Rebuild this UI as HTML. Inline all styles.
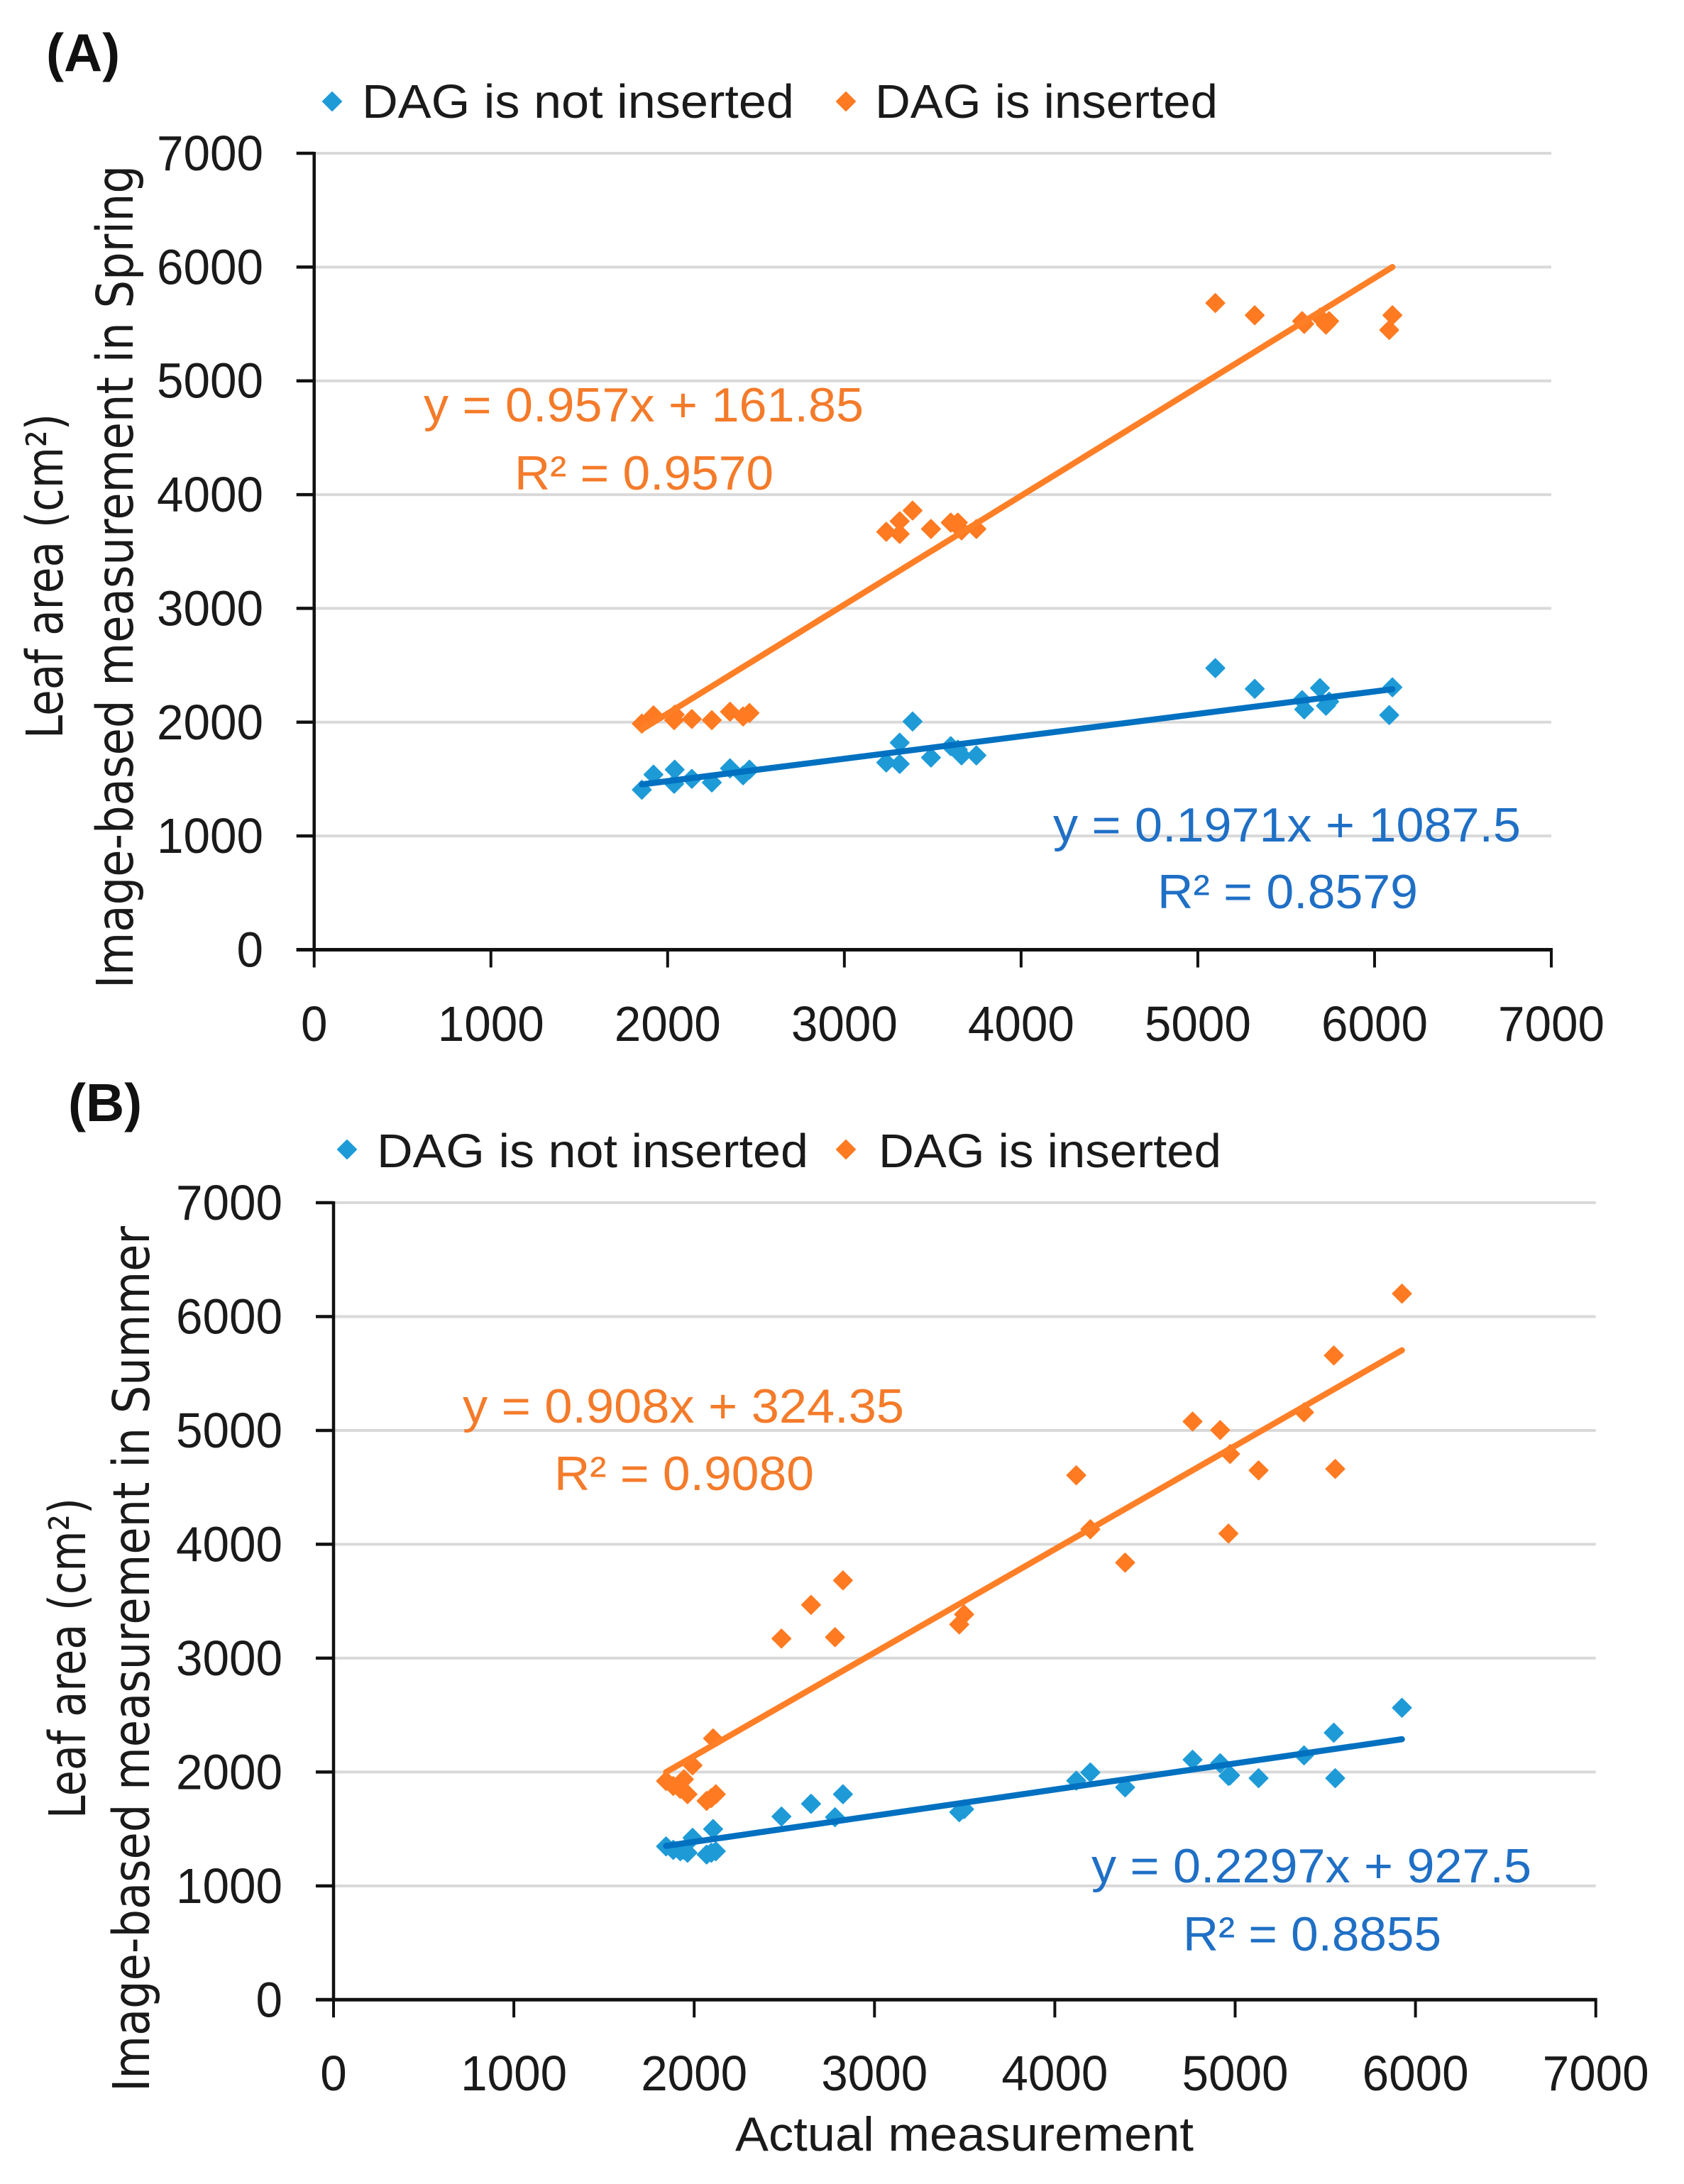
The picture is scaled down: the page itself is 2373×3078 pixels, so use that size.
<!DOCTYPE html>
<html lang="en">
<head>
<meta charset="utf-8">
<title>Leaf area: image-based vs actual measurement</title>
<style>
html,body{margin:0;padding:0;background:#fff;}
svg{display:block;font-family:"Liberation Sans",sans-serif;}
.title{font-family:"DejaVu Sans",sans-serif;font-size:71px;fill:#1a1a1a;}
.tick{font-size:70px;fill:#1a1a1a;}
.axis-title{font-size:68px;fill:#1a1a1a;}
.legend{font-size:67px;fill:#1a1a1a;}
.panel{font-size:75px;font-weight:bold;fill:#111;}
.eq{font-size:68px;}
</style>
</head>
<body>
<svg id="figure" xmlns="http://www.w3.org/2000/svg" width="2373" height="3078" viewBox="0 0 2373 3078">
<rect width="2373" height="3078" fill="#ffffff"/>

<g id="chartA"></g>
<g id="chartB"></g>

<text class="panel" x="65" y="100">(A)</text>
<polygon points="468,130 481,143 468,156 455,143" fill="#1E9BD7" stroke="#1E9BD7" stroke-width="2" stroke-linejoin="round"/>
<text class="legend" x="510" y="166" textLength="609" lengthAdjust="spacingAndGlyphs">DAG is not inserted</text>
<polygon points="1192,130 1205,143 1192,156 1179,143" fill="#FF7A21" stroke="#FF7A21" stroke-width="2" stroke-linejoin="round"/>
<text class="legend" x="1233" y="166" textLength="483" lengthAdjust="spacingAndGlyphs">DAG is inserted</text>
<text class="title" transform="translate(88,1041) rotate(-90)" textLength="458" lengthAdjust="spacingAndGlyphs">Leaf area (cm²)</text>
<text class="title" transform="translate(187,1393) rotate(-90)" textLength="1160" lengthAdjust="spacingAndGlyphs">Image-based measurement in Spring</text>
<text class="eq" x="597" y="594" fill="#F47B2A" textLength="620" lengthAdjust="spacingAndGlyphs">y = 0.957x + 161.85</text>
<text class="eq" x="725" y="690" fill="#F47B2A" textLength="365" lengthAdjust="spacingAndGlyphs">R² = 0.9570</text>
<text class="eq" x="1484" y="1186" fill="#1F6FC5" textLength="659" lengthAdjust="spacingAndGlyphs">y = 0.1971x + 1087.5</text>
<text class="eq" x="1631" y="1280" fill="#1F6FC5" textLength="367" lengthAdjust="spacingAndGlyphs">R² = 0.8579</text>

<text class="panel" x="96" y="1580">(B)</text>
<polygon points="489,1607 502,1620 489,1633 476,1620" fill="#1E9BD7" stroke="#1E9BD7" stroke-width="2" stroke-linejoin="round"/>
<text class="legend" x="531" y="1645" textLength="608" lengthAdjust="spacingAndGlyphs">DAG is not inserted</text>
<polygon points="1192,1607 1205,1620 1192,1633 1179,1620" fill="#FF7A21" stroke="#FF7A21" stroke-width="2" stroke-linejoin="round"/>
<text class="legend" x="1238" y="1645" textLength="483" lengthAdjust="spacingAndGlyphs">DAG is inserted</text>
<text class="title" transform="translate(120,2563) rotate(-90)" textLength="452" lengthAdjust="spacingAndGlyphs">Leaf area (cm²)</text>
<text class="title" transform="translate(210,2948) rotate(-90)" textLength="1220" lengthAdjust="spacingAndGlyphs">Image-based measurement in Summer</text>
<text class="eq" x="652" y="2005" fill="#F47B2A" textLength="622" lengthAdjust="spacingAndGlyphs">y = 0.908x + 324.35</text>
<text class="eq" x="781" y="2100" fill="#F47B2A" textLength="366" lengthAdjust="spacingAndGlyphs">R² = 0.9080</text>
<text class="eq" x="1538" y="2653" fill="#1F6FC5" textLength="620" lengthAdjust="spacingAndGlyphs">y = 0.2297x + 927.5</text>
<text class="eq" x="1667" y="2749" fill="#1F6FC5" textLength="364" lengthAdjust="spacingAndGlyphs">R² = 0.8855</text>
<text class="axis-title" x="1036" y="3031" textLength="646" lengthAdjust="spacingAndGlyphs">Actual measurement</text>
</svg>

<script>
var tickValues = [0, 1000, 2000, 3000, 4000, 5000, 6000, 7000];

var springActual = [1854, 1920, 2037, 2040, 2137, 2250, 2353, 2427, 2463,
  3237, 3313, 3313, 3386, 3490, 3602, 3642, 3663, 3747,
  5099, 5322, 5590, 5602, 5691, 5725, 5743, 6101, 6083];
var springNotInserted = [1406, 1539, 1458, 1583, 1502, 1470, 1594, 1533, 1583,
  1645, 1820, 1633, 2006, 1689, 1789, 1758, 1708, 1708,
  2475, 2293, 2194, 2112, 2300, 2144, 2181, 2306, 2062];
var springInserted = [1987, 2060, 2018, 2066, 2028, 2018, 2092, 2050, 2081,
  3673, 3654, 3766, 3860, 3698, 3754, 3754, 3685, 3698,
  5684, 5576, 5525, 5500, 5556, 5494, 5525, 5576, 5447];
var springTrendX = [1854, 6101];
var springTrendNotInserted = [1453, 2290];
var springTrendInserted = [1936, 6000];

var summerActual = [1844, 1884, 1923, 1943, 1963, 1991, 2069, 2105, 2095, 2120,
  2484, 2648, 2781, 2825, 3470, 3497,
  4119, 4197, 4390, 4764, 4917, 4972, 4963, 5130, 5382, 5547, 5555, 5925];
var summerNotInserted = [1347, 1316, 1304, 1316, 1291, 1422, 1275, 1499, 1291, 1304,
  1609, 1721, 1603, 1805, 1647, 1673,
  1924, 1996, 1865, 2108, 2077, 1971, 1965, 1946, 2146, 2345, 1946, 2564];
var summerInserted = [1921, 1877, 1852, 1936, 1805, 2058, 1746, 2295, 1771, 1805,
  3172, 3468, 3184, 3683, 3296, 3384,
  4606, 4132, 3839, 5078, 5003, 4793, 4094, 4649, 5159, 5658, 4662, 6201];
var summerTrendX = [1844, 5925];
var summerTrendNotInserted = [1351, 2288];
var summerTrendInserted = [1999, 5704];

var NS = 'http://www.w3.org/2000/svg';
var BLUE = '#1E9BD7', ORANGE = '#FF7A21', BLUE_LINE = '#0070C0', ORANGE_LINE = '#FF7F27';

function makeScale(pixelAtZero, pixelAtMax, maxValue) {
  return function (v) { return pixelAtZero + (pixelAtMax - pixelAtZero) * v / maxValue; };
}

function line(parent, x1, y1, x2, y2, color, width, cap) {
  var el = document.createElementNS(NS, 'line');
  el.setAttribute('x1', x1);
  el.setAttribute('y1', y1);
  el.setAttribute('x2', x2);
  el.setAttribute('y2', y2);
  el.setAttribute('stroke', color);
  el.setAttribute('stroke-width', width);
  if (cap) { el.setAttribute('stroke-linecap', cap); }
  parent.appendChild(el);
  return el;
}

function tickLabel(parent, x, y, anchor, value) {
  var el = document.createElementNS(NS, 'text');
  var label = String(value);
  el.setAttribute('class', 'tick');
  el.setAttribute('x', x);
  el.setAttribute('y', y);
  el.setAttribute('text-anchor', anchor);
  el.setAttribute('textLength', label.length * 37.5);
  el.setAttribute('lengthAdjust', 'spacingAndGlyphs');
  el.textContent = label;
  parent.appendChild(el);
  return el;
}

function markers(parent, xs, ys, sx, sy, color, seriesName) {
  for (var i = 0; i < xs.length; i++) {
    var cx = sx(xs[i]), cy = sy(ys[i]), h = 13;
    var el = document.createElementNS(NS, 'polygon');
    el.setAttribute('points', cx + ',' + (cy - h) + ' ' + (cx + h) + ',' + cy + ' ' + cx + ',' + (cy + h) + ' ' + (cx - h) + ',' + cy);
    el.setAttribute('fill', color);
    el.setAttribute('stroke', color);
    el.setAttribute('stroke-width', 2);
    el.setAttribute('stroke-linejoin', 'round');
    
    
    parent.appendChild(el);
  }
}

function drawChart(id, prefix, box, labels, xs, blueYs, orangeYs, trendX, trendBlue, trendOrange) {
  var g = document.getElementById(id);
  var sx = makeScale(box.x0, box.x1, 7000);
  var sy = makeScale(box.y0, box.y1, 7000);

  tickValues.forEach(function (t) {
    if (t > 0) {
      var grid = line(g, box.x0, sy(t), box.x1, sy(t), '#D9D9D9', 4);
      
      
    }
  });

  tickValues.forEach(function (t) {
    var yt = line(g, box.x0 - 25, sy(t), box.x0, sy(t), '#111', 4.5);
    
    
    var xt = line(g, sx(t), sy(0), sx(t), sy(0) + 25, '#111', 4);
    
    
    var yl = tickLabel(g, labels.yRight, sy(t) + 24, 'end', t);
    
    
    var xl = tickLabel(g, sx(t), labels.xBase, 'middle', t);
    
    
  });

  var yAxis = line(g, box.x0, sy(7000) - 2, box.x0, sy(0), '#111', 4.5);
  
  
  var xAxis = line(g, box.x0 - 25, sy(0), box.x1 + 2, sy(0), '#111', 5);
  
  

  markers(g, xs, blueYs, sx, sy, BLUE, prefix + '-not-inserted');
  markers(g, xs, orangeYs, sx, sy, ORANGE, prefix + '-inserted');

  var tb = line(g, sx(trendX[0]), sy(trendBlue[0]), sx(trendX[1]), sy(trendBlue[1]), BLUE_LINE, 8.5, 'round');
  
  
  var to = line(g, sx(trendX[0]), sy(trendOrange[0]), sx(trendX[1]), sy(trendOrange[1]), ORANGE_LINE, 8.5, 'round');
  
  
}

drawChart('chartA', 'spring', {x0: 442.7, x1: 2186, y0: 1338.5, y1: 216}, {yRight: 371, xBase: 1467},
  springActual, springNotInserted, springInserted, springTrendX, springTrendNotInserted, springTrendInserted);
drawChart('chartB', 'summer', {x0: 470, x1: 2248.7, y0: 2818.3, y1: 1695}, {yRight: 398, xBase: 2946},
  summerActual, summerNotInserted, summerInserted, summerTrendX, summerTrendNotInserted, summerTrendInserted);
</script>
</body>
</html>
